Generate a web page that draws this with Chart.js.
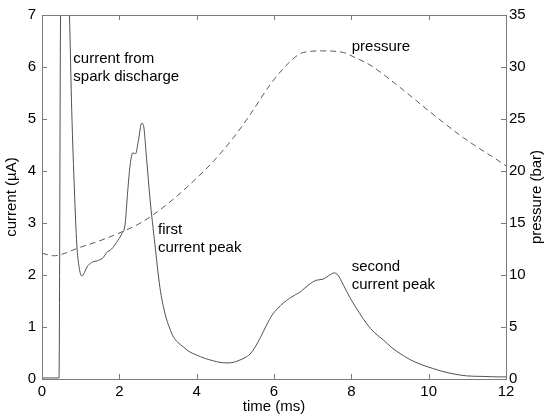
<!DOCTYPE html>
<html>
<head>
<meta charset="utf-8">
<title>Current and pressure</title>
<script src="https://cdn.jsdelivr.net/npm/chart.js@4/dist/chart.umd.min.js"></script>
<style>
  html, body { margin: 0; padding: 0; background: #fff; }
  canvas { display: block; }
</style>
</head>
<body>
<canvas id="chart" width="545" height="420"></canvas>
<script>
// --- data ---
const timeTicks = [0, 2, 4, 6, 8, 10, 12];
const currentTicks = [0, 1, 2, 3, 4, 5, 6, 7];
const pressureTicks = [0, 5, 10, 15, 20, 25, 30, 35];

const timeCurrent = [0, 0.2, 0.44, 0.48, 0.59, 0.71, 0.77, 0.84, 0.9, 0.96, 1.03, 1.1, 1.16, 1.28,
  1.46, 1.59, 1.67, 1.8, 1.93, 2.06, 2.15, 2.21, 2.28, 2.35, 2.42, 2.49, 2.58, 2.62, 2.71,
  2.79, 2.92, 3.05, 3.18, 3.3, 3.4, 3.52, 3.65, 3.8, 4.0, 4.2, 4.43, 4.6, 4.78, 4.95, 5.1,
  5.25, 5.38, 5.5, 5.65, 5.81, 5.95, 6.1, 6.24, 6.4, 6.55, 6.67, 6.8, 6.95, 7.1, 7.27, 7.4,
  7.56, 7.65, 7.8, 7.96, 8.2, 8.4, 8.6, 8.83, 9.05, 9.26, 9.5, 9.8, 10.12, 10.5, 10.98,
  11.4, 11.84, 12];
const current = [0.02, 0.02, 0.02, 7.0, 9.5, 7.0, 5.14, 3.6, 2.59, 2.15, 1.98, 2.05, 2.15, 2.24,
  2.28, 2.34, 2.43, 2.5, 2.63, 2.79, 2.98, 3.55, 4.12, 4.35, 4.33, 4.57, 4.92, 4.89, 4.19,
  3.49, 2.59, 1.76, 1.26, 0.98, 0.81, 0.7, 0.62, 0.53, 0.46, 0.4, 0.35, 0.32, 0.31, 0.32, 0.36,
  0.41, 0.48, 0.6, 0.8, 1.04, 1.23, 1.36, 1.46, 1.55, 1.62, 1.67, 1.75, 1.84, 1.9, 1.92, 1.98,
  2.04, 2.0, 1.8, 1.57, 1.28, 1.06, 0.89, 0.75, 0.6, 0.49, 0.38, 0.28, 0.2, 0.12, 0.06,
  0.05, 0.04, 0.04];

const timePressure = [0, 0.3, 0.6, 0.9, 1.5, 2.1, 2.5, 2.88, 3.4, 3.91, 4.45, 4.95, 5.38, 5.9,
  6.41, 6.76, 7.27, 7.79, 8.1, 8.48, 9.17, 10.03, 10.9, 11.84, 12];
const pressure = [12.1, 11.85, 12.1, 12.55, 13.3, 14.2, 14.9, 15.8, 17.3, 19.0, 21.0, 23.2, 25.4, 28.3,
  30.5, 31.4, 31.55, 31.4, 30.9, 30.2, 28.3, 25.7, 23.2, 20.9, 20.5];

// text labels: [lines, time, value, axis]
const notes = [
  [["current from", "spark discharge"], 0.81, 6.16, "y"],
  [["first", "current peak"], 3.0, 2.87, "y"],
  [["second", "current peak"], 8.01, 2.16, "y"],
  [["pressure"], 8.01, 31.9, "y2"],
];

const FONT = "'Liberation Sans', Arial, Helvetica, sans-serif";
Chart.defaults.font.family = FONT;
Chart.defaults.font.size = 15;
Chart.defaults.color = "#000";

// --- MATLAB-style box with inward ticks, notes, right-hand title ---
const boxPlugin = {
  id: "box",
  afterDraw(chart) {
    const { ctx, chartArea: a, scales } = chart;
    const tl = 5;
    ctx.save();
    ctx.strokeStyle = "#7a7a7a";
    ctx.lineWidth = 1;
    ctx.strokeRect(a.left + 0.5, a.top + 0.5, a.right - a.left, a.bottom - a.top);
    ctx.beginPath();
    timeTicks.forEach(v => {
      const x = Math.round(scales.x.getPixelForValue(v)) + 0.5;
      ctx.moveTo(x, a.bottom); ctx.lineTo(x, a.bottom - tl);
      ctx.moveTo(x, a.top); ctx.lineTo(x, a.top + tl);
    });
    currentTicks.forEach(v => {
      const y = Math.round(scales.y.getPixelForValue(v)) + 0.5;
      ctx.moveTo(a.left, y); ctx.lineTo(a.left + tl, y);
    });
    pressureTicks.forEach(v => {
      const y = Math.round(scales.y2.getPixelForValue(v)) + 0.5;
      ctx.moveTo(a.right, y); ctx.lineTo(a.right - tl, y);
    });
    ctx.stroke();

    ctx.fillStyle = "#000";
    ctx.font = "15px " + FONT;
    ctx.textAlign = "left";
    ctx.textBaseline = "middle";
    notes.forEach(([lines, t, v, axis]) => {
      const x = scales.x.getPixelForValue(t);
      const y = scales[axis].getPixelForValue(v);
      lines.forEach((s, i) => ctx.fillText(s, x, y + i * 18));
    });

    ctx.translate(537, (a.top + a.bottom) / 2);
    ctx.rotate(-Math.PI / 2);
    ctx.textAlign = "center";
    ctx.fillText("pressure (bar)", 0, 0);
    ctx.restore();
  }
};

new Chart(document.getElementById("chart"), {
  type: "line",
  data: {
    datasets: [
      {
        label: "current",
        data: timeCurrent.map((t, i) => ({ x: t, y: current[i] })),
        yAxisID: "y",
        borderColor: "#505050",
        borderWidth: 1,
        pointRadius: 0,
        cubicInterpolationMode: "monotone",
      },
      {
        label: "pressure",
        data: timePressure.map((t, i) => ({ x: t, y: pressure[i] })),
        yAxisID: "y2",
        borderColor: "#5a5a5a",
        borderWidth: 1,
        borderDash: [6, 4],
        pointRadius: 0,
        cubicInterpolationMode: "monotone",
      },
    ],
  },
  options: {
    responsive: false,
    animation: false,
    devicePixelRatio: 1,
    layout: { padding: { top: 13, left: 0, right: 0, bottom: 0 } },
    plugins: { legend: { display: false }, tooltip: { enabled: false } },
    scales: {
      x: {
        type: "linear", min: 0, max: 12,
        afterBuildTicks: s => { s.ticks = timeTicks.map(v => ({ value: v })); },
        ticks: { padding: 4, maxRotation: 0 },
        grid: { display: false, drawTicks: false },
        border: { display: false },
        title: { display: true, text: "time (ms)", padding: { top: 0, bottom: 4 } },
        afterFit: s => { s.height = 41; },
      },
      y: {
        position: "left", min: 0, max: 7,
        afterBuildTicks: s => { s.ticks = currentTicks.map(v => ({ value: v })); },
        ticks: { padding: 6 },
        grid: { display: false, drawTicks: false },
        border: { display: false },
        title: { display: true, text: "current (µA)", padding: { top: 3, bottom: 0 } },
        afterFit: s => { s.width = 42; },
      },
      y2: {
        position: "right", min: 0, max: 35,
        afterBuildTicks: s => { s.ticks = pressureTicks.map(v => ({ value: v })); },
        ticks: { padding: 3 },
        grid: { display: false, drawTicks: false },
        border: { display: false },
        afterFit: s => { s.width = 39; },
      },
    },
  },
  plugins: [boxPlugin],
});
</script>
</body>
</html>
